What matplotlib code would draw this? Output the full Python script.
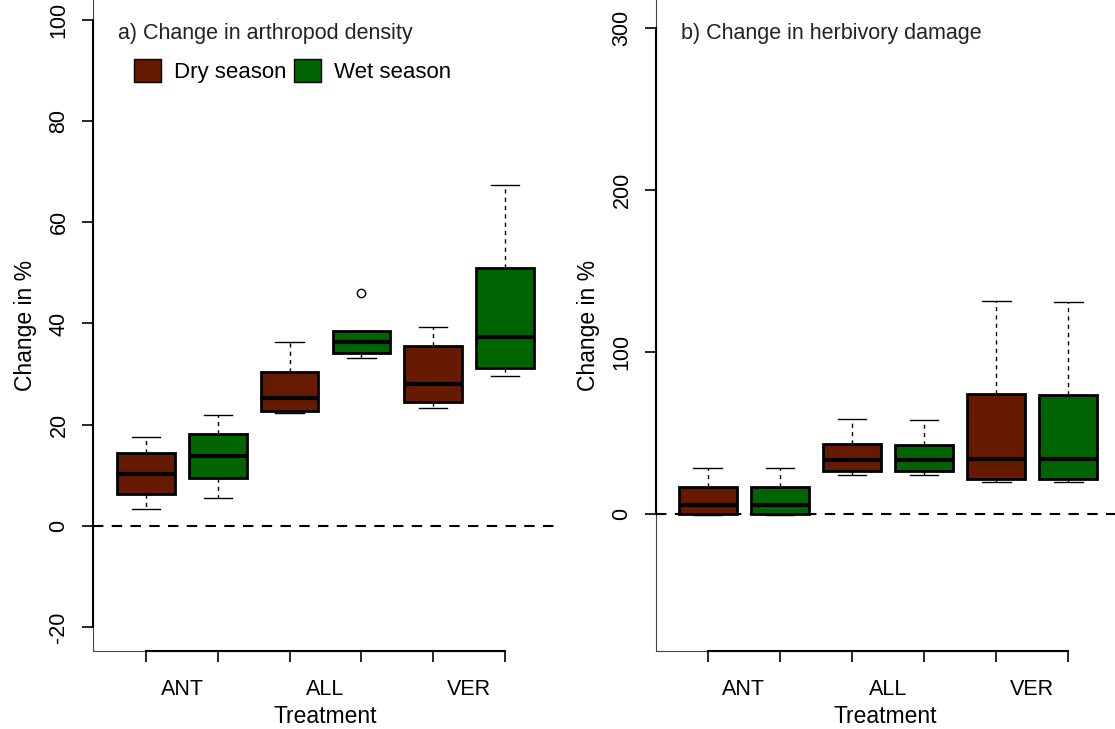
import numpy as np
import matplotlib
matplotlib.use("Agg")
import matplotlib.pyplot as plt
from matplotlib.patches import Patch

plt.rcParams['font.family'] = ['Liberation Sans', 'DejaVu Sans']

# box order: ANT dry, ANT wet, ALL dry, ALL wet, VER dry, VER wet
positions = [1, 2, 3, 4, 5, 6]
groups = ["ANT", "ALL", "VER"]
seasons = ["Dry season", "Wet season"]
dry_col = "#661a00"
wet_col = "#006400"

# a) arthropod density
a_whislo = [3.3, 5.6, 22.3, 33.2, 23.4, 29.6]
a_q1 = [6.4, 9.4, 22.7, 34.1, 24.4, 31.3]
a_med = [10.3, 13.9, 25.3, 36.4, 28.1, 37.4]
a_q3 = [14.4, 18.2, 30.4, 38.5, 35.6, 51.0]
a_whishi = [17.5, 22.0, 36.3, 38.5, 39.3, 67.4]
a_fliers = [[], [], [], [46.0], [], []]

# b) herbivory damage
b_whislo = [-0.8, -0.8, 24.1, 23.9, 19.8, 19.3]
b_q1 = [-0.2, -0.2, 26.3, 26.1, 21.6, 21.4]
b_med = [5.6, 5.6, 33.1, 33.1, 33.8, 33.5]
b_q3 = [16.7, 16.5, 43.0, 42.6, 73.7, 73.3]
b_whishi = [28.4, 28.2, 58.2, 57.8, 131.5, 130.9]
b_fliers = [[], [], [], [], [], []]


def make_stats(lo, q1, med, q3, hi, fl):
    return [dict(whislo=lo[i], q1=q1[i], med=med[i], q3=q3[i], whishi=hi[i], fliers=fl[i])
            for i in range(len(lo))]


def draw_panel(ax, stats, ylim, yticks, title):
    res = ax.bxp(stats, positions=positions, widths=0.8, patch_artist=True,
                 boxprops=dict(edgecolor="black", linewidth=2),
                 medianprops=dict(color="black", linewidth=3),
                 whiskerprops=dict(color="black", linewidth=1, linestyle=(0, (3, 3))),
                 capprops=dict(color="black", linewidth=1),
                 flierprops=dict(marker="o", markerfacecolor="white", markeredgecolor="black",
                                 markersize=6, markeredgewidth=1),
                 capwidths=0.4, zorder=3)
    for i, b in enumerate(res["boxes"]):
        b.set_facecolor(dry_col if i % 2 == 0 else wet_col)

    ax.axhline(0, color="black", linewidth=1.5, linestyle=(0, (5, 4)), zorder=2)

    ax.set_ylim(*ylim)
    ax.set_yticks(yticks)
    ax.set_yticklabels([str(t) for t in yticks], rotation=90, va="center", fontsize=15.5)
    ax.set_xticks(positions)
    ax.set_xticklabels([])
    ax.set_xticks([1.5, 3.5, 5.5], minor=True)
    ax.set_xticklabels(groups, minor=True, fontsize=15.5)
    ax.tick_params(axis="x", which="minor", length=0, pad=20)
    ax.tick_params(axis="both", which="major", length=8, width=1.2, direction="out")
    ax.tick_params(axis="y", which="major", pad=9)

    ax.spines["top"].set_visible(False)
    ax.spines["right"].set_visible(False)
    ax.spines["left"].set_linewidth(1.5)
    ax.spines["bottom"].set_linewidth(1.5)
    ax.spines["left"].set_bounds(yticks[0], yticks[-1])
    ax.spines["bottom"].set_bounds(1, 6)
    # thin L-shaped frame
    x0 = ax.get_xlim()[0]
    ax.plot([x0, x0, 6], [ylim[1], ylim[0], ylim[0]], color="#444444", linewidth=0.8,
            clip_on=False, zorder=1)

    ax.set_ylabel("Change in %", fontsize=16.5, labelpad=8)
    ax.set_xlabel("Treatment", fontsize=16.5, labelpad=4)
    ax.text(0.054, 0.949, title, transform=ax.transAxes, fontsize=15.5,
            ha="left", va="center", color="#222222")


fig = plt.figure(figsize=(11.15, 7.29), dpi=100)
ax1 = fig.add_axes([93 / 1115, 78 / 729, 465 / 1115, 651 / 729])
ax2 = fig.add_axes([656 / 1115, 78 / 729, 459 / 1115, 651 / 729])

ax1.set_xlim(0.26, 6.74)
ax2.set_xlim(0.28, 6.65)

draw_panel(ax1, make_stats(a_whislo, a_q1, a_med, a_q3, a_whishi, a_fliers),
           (-24.7, 103.9), [-20, 0, 20, 40, 60, 80, 100], "a) Change in arthropod density")
draw_panel(ax2, make_stats(b_whislo, b_q1, b_med, b_q3, b_whishi, b_fliers),
           (-84.8, 317.0), [0, 100, 200, 300], "b) Change in herbivory damage")

handles = [Patch(facecolor=dry_col, edgecolor="black", linewidth=1),
           Patch(facecolor=wet_col, edgecolor="black", linewidth=1)]
ax1.legend(handles, seasons, loc="center left", bbox_to_anchor=(0.088, 0.891),
           frameon=False, fontsize=16, ncol=2, handlelength=1.2, handleheight=1.2,
           handletextpad=0.6, columnspacing=0.35, borderaxespad=0, borderpad=0)

fig.savefig("out.png", dpi=100)
